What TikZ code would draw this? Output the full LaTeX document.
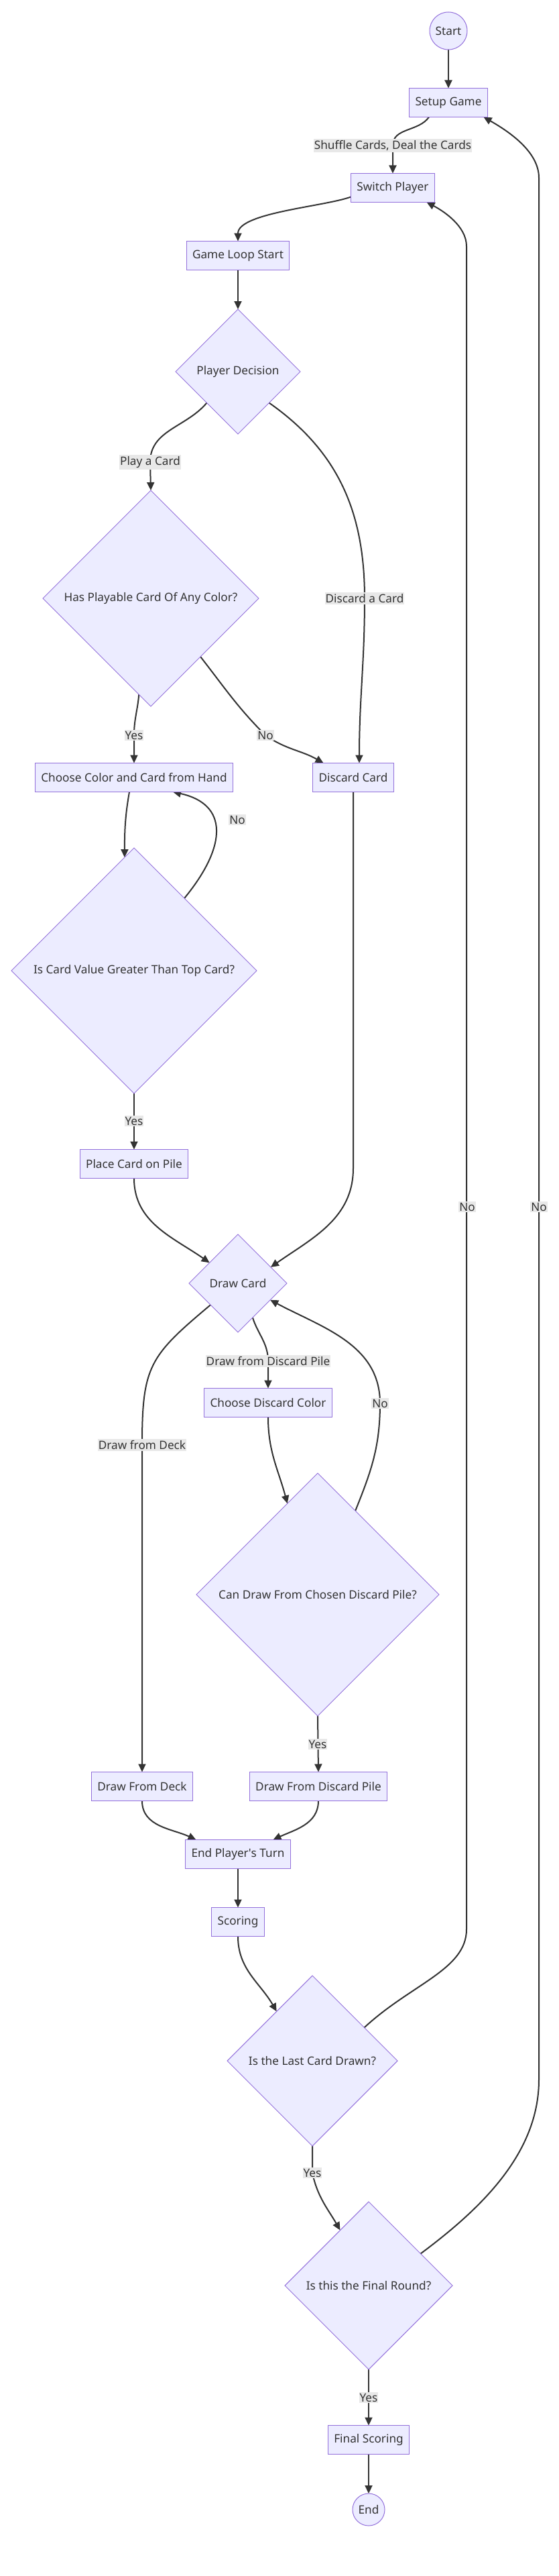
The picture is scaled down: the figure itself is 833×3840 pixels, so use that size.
\documentclass[tikz,border=0pt]{standalone}
\usepackage{fontspec}
\setmainfont{Noto Sans}
\usetikzlibrary{arrows.meta,shapes.geometric,calc,backgrounds}
\definecolor{nodefill}{HTML}{ECECFF}
\definecolor{nodeline}{HTML}{9370DB}
\definecolor{ink}{HTML}{333333}
\definecolor{lblfill}{HTML}{E8E8E8}

\begin{document}
\begin{tikzpicture}[x=1pt,y=1pt,
    every node/.style={font=\fontsize{17.2}{20}\selectfont,text=ink},
    proc/.style={draw=nodeline,fill=nodefill,line width=1pt,rectangle,inner xsep=9pt,inner ysep=0pt,minimum height=43pt,outer sep=0pt},
    decision/.style={draw=nodeline,fill=nodefill,line width=1pt,diamond,aspect=1,inner sep=0pt,outer sep=0pt,minimum width=#1,minimum height=#1},
    terminal/.style={draw=nodeline,fill=nodefill,line width=1pt,circle,inner sep=0pt,outer sep=0pt,minimum size=#1},
    lbl/.style={fill=lblfill,inner xsep=1pt,inner ysep=2pt},
    flow/.style={draw=ink,line width=2pt,-{Triangle[length=12pt,width=11pt]}}]
    \useasboundingbox (0,0) rectangle (833,-3840);

    \node[terminal=56pt] (start) at (669,-46) {Start};
    \node[proc] (setup) at (669,-153) {Setup Game};
    \node[proc] (switch) at (586,-280) {Switch Player};
    \node[proc] (loop) at (355,-381) {Game Loop Start};
    \node[decision=186pt] (decide) at (355,-554) {Player Decision};
    \node[decision=322pt] (playable) at (225,-892) {Has Playable Card Of Any Color?};
    \node[proc] (choose) at (200,-1159) {Choose Color and Card from Hand};
    \node[proc] (discard) at (527,-1159) {Discard Card};
    \node[decision=366pt] (greater) at (200,-1447) {Is Card Value Greater Than Top Card?};
    \node[proc] (place) at (200,-1735) {Place Card on Pile};
    \node[decision=146pt] (drawcard) at (355,-1913) {Draw Card};
    \node[proc] (pickcolor) at (400,-2091) {Choose Discard Color};
    \node[decision=362pt] (candraw) at (474,-2377) {Can Draw From Chosen Discard Pile?};
    \node[proc] (deck) at (212,-2663) {Draw From Deck};
    \node[proc] (pile) at (475,-2663) {Draw From Discard Pile};
    \node[proc] (endturn) at (355,-2764) {End Player\textquotesingle s Turn};
    \node[proc] (scoring) at (355,-2865) {Scoring};
    \node[decision=254pt] (lastcard) at (466,-3072) {Is the Last Card Drawn?};
    \node[decision=250pt] (final) at (550,-3407) {Is this the Final Round?};
    \node[proc] (finalscore) at (550,-3637) {Final Scoring};
    \node[terminal=48pt] (end) at (550,-3741) {End};

    % edge labels
    \node[lbl] (lshuffle) at (586,-217) {Shuffle Cards, Deal the Cards};
    \node[lbl] (lplay) at (224,-689) {Play a Card};
    \node[lbl] (ldiscard) at (544,-892) {Discard a Card};
    \node[lbl] (lyes1) at (200,-1096) {Yes};
    \node[lbl] (lno1) at (396,-1096) {No};
    \node[lbl] (lno2) at (354,-1222) {No};
    \node[lbl] (lyes2) at (200,-1671) {Yes};
    \node[lbl] (lno3) at (697,-1799) {No};
    \node[lbl] (lno4) at (804,-1799) {No};
    \node[lbl] (lpile) at (400,-2029) {Draw from Discard Pile};
    \node[lbl] (lno5) at (567,-2092) {No};
    \node[lbl] (ldeck) at (212,-2154) {Draw from Deck};
    \node[lbl] (lyes3) at (474,-2600) {Yes};
    \node[lbl] (lyes4) at (466,-3239) {Yes};
    \node[lbl] (lyes5) at (550,-3574) {Yes};

    \begin{scope}[on background layer]
    \fill[white] (0,0) rectangle (833,-3840);
    \draw[flow] (start) -- (setup);
    \draw[flow] ($(setup.south)+(-29,0)$) to[out=-125,in=90] (lshuffle.center) -- (switch.north);
    \draw[flow] ($(switch.south west)+(0,8)$) to[out=200,in=90,looseness=0.6] (loop.north);
    \draw[flow] (loop) -- (decide);
    \draw[flow] (decide.south west) to[out=-130,in=90] (lplay.center) -- (playable.north);
    \draw[flow] (decide.south east) to[out=-35,in=90] (ldiscard.center) to[out=-90,in=90] ($(discard.north)+(9,0)$);
    \draw[flow] ($(playable.south)!0.11!(playable.west)$) to[out=-95,in=90] (lyes1.center) -- (choose.north);
    \draw[flow] ($(playable.south)!0.46!(playable.east)$) to[out=-52,in=135] (lno1.center) to[out=-35,in=150] ($(discard.north west)+(16,0)$);
    \draw[flow] ($(choose.south)+(-7,0)$) to[out=-100,in=90] ($(greater.north)!0.077!(greater.west)$);
    \draw[flow] ($(greater.north)!0.41!(greater.east)$) .. controls +(65,79) and +(82,-18) .. ($(choose.south)+(58,0)$);
    \draw[flow] (greater) -- (place);
    \draw[flow] (place.south) to[out=-90,in=145] ($(drawcard.north)!0.58!(drawcard.west)$);
    \draw[flow] (discard.south) -- ++(0,-561) to[out=-90,in=35] ($(drawcard.north)!0.67!(drawcard.east)$);
    \draw[flow] ($(drawcard.west)!0.44!(drawcard.south)$) to[out=-140,in=90,looseness=1.3] (ldeck.center) -- (deck.north);
    \draw[flow] ($(drawcard.south)!0.3!(drawcard.east)$) to[out=-72,in=90] (lpile.center) -- (pickcolor.north);
    \draw[flow] (pickcolor.south) to[out=-90,in=105] ($(candraw.north)!0.25!(candraw.west)$);
    \draw[flow] ($(candraw.north)!0.31!(candraw.east)$) to[out=68,in=-90] (lno5.center) to[out=90,in=-28] ($(drawcard.east)!0.34!(drawcard.south)$);
    \draw[flow] (candraw.south) -- (pile.north);
    \draw[flow] (deck.south) to[out=-90,in=155] ($(endturn.north west)+(16,0)$);
    \draw[flow] (pile.south) to[out=-90,in=25] ($(endturn.north east)+(-26,0)$);
    \draw[flow] (endturn) -- (scoring);
    \draw[flow] (scoring.south) to[out=-90,in=120] ($(lastcard.north)!0.42!(lastcard.west)$);
    \draw[flow] ($(lastcard.north)!0.61!(lastcard.east)$) .. controls +(70,65) and +(0,-60) .. (696,-2876)
        -- (696,-367) .. controls +(0,30) and +(25,-13) .. ($(switch.south east)+(-12,0)$);
    \draw[flow] (lastcard.south) to[out=-90,in=90] (lyes4.center) to[out=-78,in=120] ($(final.north)!0.34!(final.west)$);
    \draw[flow] ($(final.north)!0.62!(final.east)$) .. controls +(90,67) and +(0,-110) .. (804,-3100)
        -- (804,-265) .. controls +(0,40) and +(35,-20) .. ($(setup.south east)+(-6,0)$);
    \draw[flow] (final) -- (finalscore);
    \draw[flow] (finalscore) -- (end);
    \end{scope}
\end{tikzpicture}
\end{document}
